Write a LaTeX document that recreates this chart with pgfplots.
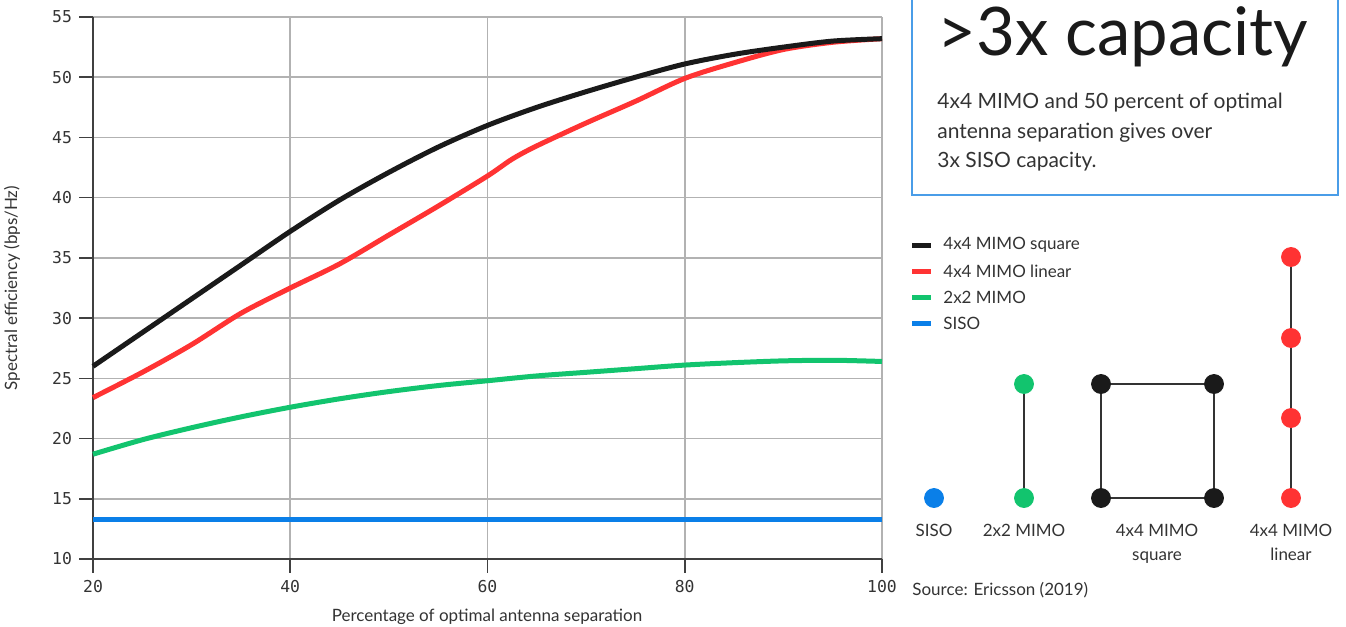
\documentclass[border=0pt]{standalone}
\usepackage{pgfplots}
\pgfplotsset{compat=1.18}
\usepackage{fontspec}
\setmainfont{Lato}
\newfontfamily\monofont{DejaVu Sans Mono}
\definecolor{cblack}{HTML}{1A1A1A}
\definecolor{cred}{HTML}{FF3333}
\definecolor{cgreen}{HTML}{12C46E}
\definecolor{cblue}{HTML}{0A7FE8}
\definecolor{cbox}{HTML}{4A9DE8}
\definecolor{txt}{HTML}{333333}
\begin{document}
\begin{tikzpicture}
\useasboundingbox (0,0) rectangle (673pt,313.5pt);
\begin{axis}[at={(46.5pt,34pt)}, anchor=south west, scale only axis,
  width=394.5pt, height=271pt,
  xmin=20, xmax=100, ymin=10, ymax=55,
  xtick={20,40,...,100}, ytick={10,15,...,55},
  axis x line=bottom, axis y line=left,
  axis line style={-, draw=black!75, line width=0.8pt},
  tick align=outside, major tick length=7pt,
  tick style={draw=black!75, line width=0.8pt},
  grid=major, grid style={draw=black!30, line width=0.8pt},
  ticklabel style={font=\monofont\fontsize{8.2}{10}\selectfont, text=txt},
  /pgf/number format/assume math mode=true,
  clip=false]
\addplot[cblue, line width=2.5pt] coordinates {(20,13.3)(100,13.3)};
\addplot[cgreen, line width=2.5pt, smooth] coordinates {(20,18.7)(25,19.9)(30,20.9)(35,21.8)(40,22.6)(45,23.3)(50,23.9)(55,24.4)(60,24.8)(65,25.2)(70,25.5)(75,25.8)(80,26.1)(85,26.3)(90,26.45)(95,26.5)(100,26.4)};
\addplot[cred, line width=2.5pt, smooth] coordinates {(20,23.4)(25,25.5)(30,27.8)(35,30.4)(40,32.5)(45,34.5)(50,36.9)(55,39.3)(60,41.8)(62.5,43.2)(65,44.3)(70,46.2)(75,48.0)(80,49.9)(85,51.2)(90,52.3)(95,52.9)(100,53.2)};
\addplot[cblack, line width=2.5pt, smooth] coordinates {(20,26.0)(25,28.8)(30,31.6)(35,34.4)(40,37.2)(45,39.8)(50,42.1)(55,44.2)(60,46.0)(65,47.5)(70,48.8)(75,50.0)(80,51.1)(85,51.9)(90,52.5)(95,53.0)(100,53.2)};
\end{axis}
\begin{axis}[at={(0pt,0pt)}, anchor=south west, scale only axis,
  width=673pt, height=313.5pt, xmin=0, xmax=1346, ymin=0, ymax=627,
  y dir=reverse, hide axis, clip=false]
% axis labels
\node[rotate=90, font=\fontsize{8.5}{10}\selectfont, text=txt] at (axis cs:12,288) {Spectral efficiency (bps/Hz)};
\node[font=\fontsize{8.5}{10}\selectfont, text=txt] at (axis cs:487,617) {Percentage of optimal antenna separation};
% box
\draw[cbox, line width=0.8pt] (axis cs:912,-20) rectangle (axis cs:1338,195);
\node[anchor=base west, inner sep=0pt, font=\fontsize{33.5}{40}\selectfont, text=cblack] at (axis cs:937,55) {>3x capacity};
\node[anchor=base west, inner sep=0pt, font=\fontsize{10.5}{14.5}\selectfont, text=txt] at (axis cs:937,108) {4x4 MIMO and 50 percent of optimal};
\node[anchor=base west, inner sep=0pt, font=\fontsize{10.5}{14.5}\selectfont, text=txt] at (axis cs:937,138) {antenna separation gives over};
\node[anchor=base west, inner sep=0pt, font=\fontsize{10.5}{14.5}\selectfont, text=txt] at (axis cs:937,167) {3x SISO capacity.};
% legend
\addplot[cblack, line width=2.5pt] coordinates {(912,245)(931,245)};
\addplot[cred, line width=2.5pt] coordinates {(912,271)(931,271)};
\addplot[cgreen, line width=2.5pt] coordinates {(912,297)(931,297)};
\addplot[cblue, line width=2.5pt] coordinates {(912,323)(931,323)};
\node[anchor=west, inner sep=0pt, font=\fontsize{8.5}{10}\selectfont, text=txt] at (axis cs:943,245) {4x4 MIMO square};
\node[anchor=west, inner sep=0pt, font=\fontsize{8.5}{10}\selectfont, text=txt] at (axis cs:943,271) {4x4 MIMO linear};
\node[anchor=west, inner sep=0pt, font=\fontsize{8.5}{10}\selectfont, text=txt] at (axis cs:943,297) {2x2 MIMO};
\node[anchor=west, inner sep=0pt, font=\fontsize{8.5}{10}\selectfont, text=txt] at (axis cs:943,323) {SISO};
% diagrams
\addplot[draw=black!80, line width=1pt] coordinates {(1024,384)(1024,498)};
\addplot[draw=black!80, line width=1pt] coordinates {(1101,384)(1214,384)(1214,498)(1101,498)(1101,384)};
\addplot[draw=black!80, line width=1pt] coordinates {(1291,257)(1291,498)};
\addplot[only marks, mark=*, mark size=4.75pt, color=cblue] coordinates {(934,498)};
\addplot[only marks, mark=*, mark size=4.75pt, color=cgreen] coordinates {(1024,384)(1024,498)};
\addplot[only marks, mark=*, mark size=4.75pt, color=cblack] coordinates {(1101,384)(1214,384)(1214,498)(1101,498)};
\addplot[only marks, mark=*, mark size=4.75pt, color=cred] coordinates {(1291,257)(1291,338)(1291,418)(1291,498)};
\node[anchor=base, inner sep=0pt, font=\fontsize{8.5}{10}\selectfont, text=txt] at (axis cs:934,536) {SISO};
\node[anchor=base, inner sep=0pt, font=\fontsize{8.5}{10}\selectfont, text=txt] at (axis cs:1024,536) {2x2 MIMO};
\node[anchor=base, inner sep=0pt, font=\fontsize{8.5}{10}\selectfont, text=txt] at (axis cs:1157,536) {4x4 MIMO};
\node[anchor=base, inner sep=0pt, font=\fontsize{8.5}{10}\selectfont, text=txt] at (axis cs:1157,560) {square};
\node[anchor=base, inner sep=0pt, font=\fontsize{8.5}{10}\selectfont, text=txt] at (axis cs:1291,536) {4x4 MIMO};
\node[anchor=base, inner sep=0pt, font=\fontsize{8.5}{10}\selectfont, text=txt] at (axis cs:1291,560) {linear};
\node[anchor=base west, inner sep=0pt, font=\fontsize{8.5}{10}\selectfont, text=txt] at (axis cs:912,595) {Source: Ericsson (2019)};
\end{axis}
\end{tikzpicture}
\end{document}
